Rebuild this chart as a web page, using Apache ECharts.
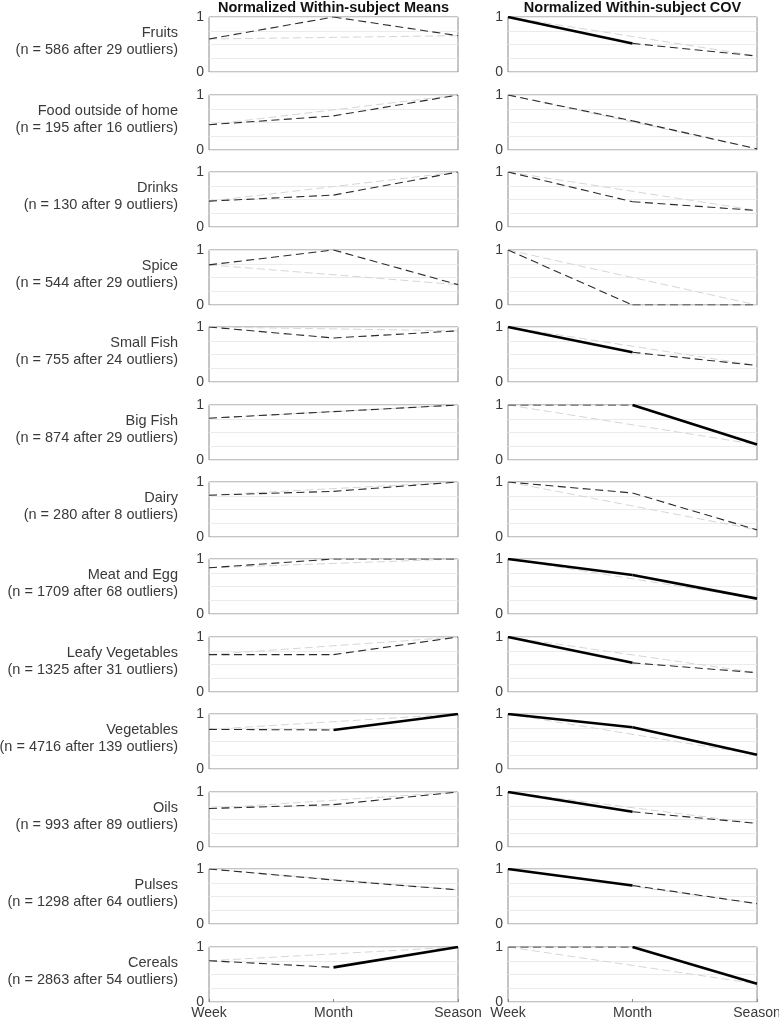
<!DOCTYPE html>
<html>
<head>
<meta charset="utf-8">
<script src="https://cdn.jsdelivr.net/npm/echarts@6/dist/echarts.min.js"></script>
<style>
html,body{margin:0;padding:0;background:#fff;}
#chart{width:779px;height:1021px;}
</style>
</head>
<body>
<div id="chart"></div>
<script>
const categories = ['Week', 'Month', 'Season'];
const foodNames = ['Fruits', 'Food outside of home', 'Drinks', 'Spice', 'Small Fish', 'Big Fish', 'Dairy',
  'Meat and Egg', 'Leafy Vegetables', 'Vegetables', 'Oils', 'Pulses', 'Cereals'];
const sampleN = [586, 195, 130, 544, 755, 874, 280, 1709, 1325, 4716, 993, 1298, 2863];
const outliers = [29, 16, 9, 29, 24, 29, 8, 68, 31, 139, 89, 64, 54];
const columnTitles = ['Normalized Within-subject Means', 'Normalized Within-subject COV'];

// Means (Week, Month, Season)
const meansWeek   = [0.60, 0.46, 0.47, 0.73, 1.00, 0.76, 0.76, 0.84, 0.68, 0.72, 0.70, 1.00, 0.75];
const meansMonth  = [1.00, 0.62, 0.58, 1.00, 0.80, 0.88, 0.83, 1.00, 0.68, 0.71, 0.77, 0.80, 0.63];
const meansSeason = [0.66, 1.00, 1.00, 0.37, 0.93, 1.00, 1.00, 1.00, 1.00, 1.00, 1.00, 0.62, 1.00];
// significance of Week->Month and Month->Season changes (1 = solid)
const meansSigWM  = [0, 0, 0, 0, 0, 0, 0, 0, 0, 0, 0, 0, 0];
const meansSigMS  = [0, 0, 0, 0, 0, 0, 0, 0, 0, 1, 0, 0, 1];

// COV (Week, Month, Season)
const covWeek   = [1.00, 1.00, 1.00, 1.00, 1.00, 1.00, 1.00, 1.00, 1.00, 1.00, 1.00, 1.00, 1.00];
const covMonth  = [0.52, 0.53, 0.46, 0.00, 0.54, 1.00, 0.80, 0.71, 0.53, 0.76, 0.64, 0.70, 1.00];
const covSeason = [0.29, 0.02, 0.30, 0.00, 0.30, 0.28, 0.13, 0.28, 0.35, 0.26, 0.43, 0.37, 0.33];
const covSigWM  = [1, 0, 0, 0, 1, 0, 0, 1, 1, 1, 1, 1, 0];
const covSigMS  = [0, 0, 0, 0, 0, 1, 0, 1, 0, 1, 0, 0, 1];

const yTicks = [0, 1];

const chart = echarts.init(document.getElementById('chart'), null, {renderer: 'canvas'});

const FONT = '"Liberation Sans", Arial, Helvetica, sans-serif';
const TXT = '#3a3a3a';
const colLeft = [209, 508];
const colWidth = 249;
const rowTop0 = 17.3;
const rowStep = 77.45;
const rowH = 55;

const grids = [], xAxes = [], yAxes = [], series = [], graphics = [];

const columns = [
  {w: meansWeek, m: meansMonth, s: meansSeason, a: meansSigWM, b: meansSigMS},
  {w: covWeek, m: covMonth, s: covSeason, a: covSigWM, b: covSigMS}
];

const nRows = foodNames.length;
let gi = 0;
for (let r = 0; r < nRows; r++) {
  const top = Math.round(rowTop0 + r * rowStep);
  for (let c = 0; c < 2; c++) {
    const col = columns[c];
    grids.push({
      left: colLeft[c], top: top, width: colWidth, height: rowH,
      containLabel: false, outerBoundsMode: 'none',
      show: true, borderColor: '#8a8a8a', borderWidth: 1, backgroundColor: 'transparent'
    });
    const last = r === nRows - 1;
    xAxes.push({
      type: 'category', gridIndex: gi, data: categories, boundaryGap: false,
      axisLine: {show: false},
      axisTick: {show: last, inside: true, length: 3, lineStyle: {color: '#8a8a8a'}},
      axisLabel: {show: last, color: TXT, fontSize: 14, fontFamily: FONT, margin: 4,
        hideOverlap: false, showMinLabel: true, showMaxLabel: true},
      splitLine: {show: false}
    });
    yAxes.push({
      type: 'value', gridIndex: gi, min: 0, max: 1, interval: 0.25,
      axisLine: {show: false},
      axisTick: {show: false},
      axisLabel: {
        show: true, color: TXT, fontSize: 14, fontFamily: FONT, margin: 5,
        formatter: v => (yTicks.indexOf(v) >= 0 ? String(v) : '')
      },
      splitLine: {show: true, lineStyle: {color: '#ebebeb', width: 1}}
    });
    const w = col.w[r], m = col.m[r], s = col.s[r];
    // light reference line from Week to Season
    series.push({
      type: 'line', xAxisIndex: gi, yAxisIndex: gi, data: [w, '-', s], connectNulls: true,
      symbol: 'none', silent: true, z: 2,
      lineStyle: {color: '#d6d6d6', width: 1, type: [8, 4]}
    });
    const segStyle = sig => sig
      ? {color: '#000', width: 2.6, type: 'solid'}
      : {color: '#2a2a2a', width: 1.1, type: [8, 4.5]};
    series.push({
      type: 'line', xAxisIndex: gi, yAxisIndex: gi, data: [w, m, '-'],
      symbol: 'none', silent: true, z: 3, lineStyle: segStyle(col.a[r])
    });
    series.push({
      type: 'line', xAxisIndex: gi, yAxisIndex: gi, data: ['-', m, s],
      symbol: 'none', silent: true, z: 3, lineStyle: segStyle(col.b[r])
    });
    gi++;
  }
  graphics.push({
    type: 'text', x: 178, y: top + rowH / 2 - 3,
    style: {
      text: foodNames[r] + '\n(n = ' + sampleN[r] + ' after ' + outliers[r] + ' outliers)',
      align: 'right', verticalAlign: 'middle', fill: TXT,
      font: '14.5px ' + FONT, lineHeight: 17
    }
  });
}

columnTitles.forEach((t, c) => {
  graphics.push({
    type: 'text', x: colLeft[c] + colWidth / 2, y: 8,
    style: {text: t, align: 'center', verticalAlign: 'middle', fill: '#111', font: 'bold 14.5px ' + FONT}
  });
});

chart.setOption({
  animation: false,
  backgroundColor: '#fff',
  grid: grids,
  xAxis: xAxes,
  yAxis: yAxes,
  series: series,
  graphic: graphics
});
</script>
</body>
</html>
